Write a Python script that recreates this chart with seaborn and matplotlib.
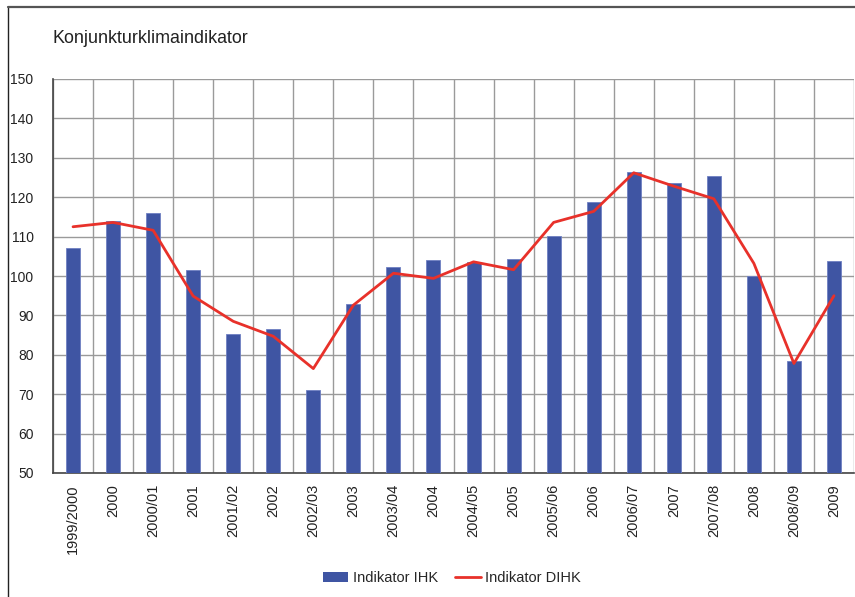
import numpy as np
import pandas as pd
import matplotlib
matplotlib.use("Agg")
import matplotlib.pyplot as plt
from matplotlib.lines import Line2D
from matplotlib.patches import Patch
import seaborn as sns

# values
perioden = ["1999/2000", "2000", "2000/01", "2001", "2001/02", "2002", "2002/03",
            "2003", "2003/04", "2004", "2004/05", "2005", "2005/06", "2006",
            "2006/07", "2007", "2007/08", "2008", "2008/09", "2009"]
ihk = [107.1, 113.9, 116.0, 101.4, 85.3, 86.6, 71.0, 93.0, 102.3, 104.0,
       103.6, 104.2, 110.1, 118.9, 126.3, 123.6, 125.5, 100.0, 78.5, 103.9]
dihk = [112.5, 113.6, 111.6, 94.9, 88.5, 84.7, 76.5, 92.6, 100.7, 99.4,
        103.6, 101.6, 113.6, 116.4, 126.2, 122.8, 119.6, 103.2, 77.8, 95.0]
y_ticks = [50, 60, 70, 80, 90, 100, 110, 120, 130, 140, 150]

BLUE = "#3F55A3"
RED = "#E8312A"
GRID = "#9a9a9a"

sns.set_style("white")
plt.rcParams["font.family"] = ["Liberation Sans", "DejaVu Sans"]

df = pd.DataFrame({"periode": perioden, "ihk": ihk, "dihk": dihk,
                   "pos": np.arange(len(perioden))})

fig = plt.figure(figsize=(8.55, 5.97), dpi=100)
ax = fig.add_axes([53 / 855, 1 - 473 / 597, (854 - 53) / 855, (473 - 79) / 597])

sns.barplot(data=df, x="periode", y="ihk", color=BLUE, width=0.35,
            saturation=1, edgecolor="#6f80c2", linewidth=0.6, ax=ax, zorder=3)
sns.lineplot(data=df, x="pos", y="dihk", color=RED, linewidth=2,
             sort=False, ax=ax, zorder=4)

ax.set_xlim(-0.5, len(perioden) - 0.5)
ax.set_ylim(50, 150)
ax.set_yticks(y_ticks)
ax.set_xticks(np.arange(len(perioden)))
ax.set_xticklabels(perioden, rotation=90, fontsize=10.5, color="#222222")
ax.set_xticks(np.arange(len(perioden) + 1) - 0.5, minor=True)
ax.tick_params(axis="y", labelsize=10, colors="#222222", length=5, width=1, pad=9)
ax.tick_params(axis="x", which="both", length=0, pad=8)
ax.grid(axis="y", color=GRID, linewidth=1, zorder=0)
ax.grid(axis="x", which="minor", color=GRID, linewidth=1, zorder=0)
ax.grid(axis="x", which="major", visible=False)
ax.set_axisbelow(True)
ax.set_xlabel("")
ax.set_ylabel("")

for side in ["left", "bottom"]:
    ax.spines[side].set_color("#444444")
    ax.spines[side].set_linewidth(1.2)
ax.spines["top"].set_visible(False)
ax.spines["right"].set_visible(False)

fig.text(52 / 855, 1 - 43 / 597, "Konjunkturklimaindikator", fontsize=12.9,
         color="#222222", va="baseline", ha="left")

handles = [Patch(facecolor=BLUE, edgecolor="none", label="Indikator IHK"),
           Line2D([0], [0], color=RED, linewidth=2, label="Indikator DIHK")]
fig.legend(handles=handles, loc="center", bbox_to_anchor=(452 / 855, 1 - 578 / 597),
           ncol=2, frameon=False, fontsize=10.5, handlelength=1.75,
           handleheight=0.75, handletextpad=0.3, columnspacing=1.2)

# outer frame lines (left and top only)
fig.add_artist(Line2D([8 / 855, 8 / 855], [0, 1 - 7 / 597], color="#222222",
                      linewidth=1, transform=fig.transFigure))
fig.add_artist(Line2D([8 / 855, 1], [1 - 7 / 597, 1 - 7 / 597], color="#555555",
                      linewidth=1.6, transform=fig.transFigure))

fig.savefig("out.png", dpi=100)
